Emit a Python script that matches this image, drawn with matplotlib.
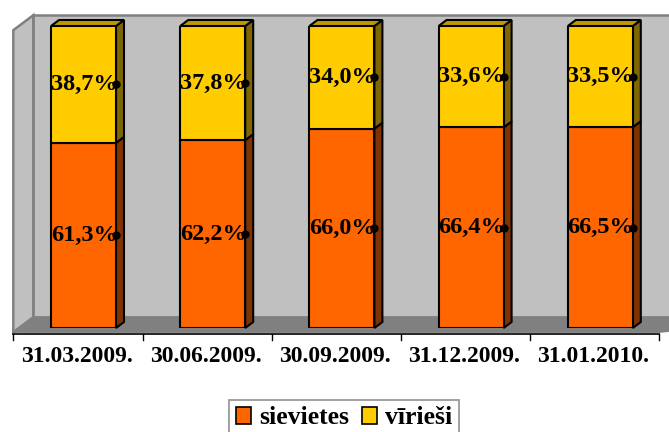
import numpy as np
import matplotlib
matplotlib.use("Agg")
import matplotlib.pyplot as plt
from matplotlib.patches import Polygon, Patch
from matplotlib.transforms import IdentityTransform, offset_copy

dates = ["31.03.2009.", "30.06.2009.", "30.09.2009.", "31.12.2009.", "31.01.2010."]
sievietes = [61.3, 62.2, 66.0, 66.4, 66.5]
virresi = [38.7, 37.8, 34.0, 33.6, 33.5]
series_names = ["sievietes", "vīrieši"]

front_cols = ["#FF6600", "#FFCC00"]
side_cols = ["#803300", "#806600"]
top_cols = ["#BF4C00", "#BF9900"]

plt.rcParams["font.family"] = ["Liberation Serif", "DejaVu Serif"]
plt.rcParams["font.weight"] = "bold"

fig = plt.figure(figsize=(6.69, 4.32), dpi=100)
W, H = 669, 432
# axes = front plane of the bars
ax = fig.add_axes([18.9 / W, (H - 328) / H, 646 / W, 302 / H])
ax.set_xlim(-0.5, 4.5)
ax.set_ylim(0, 100)
ax.axis("off")

DX, DY = 8.0, 6.0  # depth of one bar in pixels


def pt(x, y, d):
    p = ax.transData.transform((x, y))
    return (p[0] + d * DX, p[1] + d * DY)


def face(pts, fc, ec="black", lw=1.5, z=1):
    ax.add_patch(Polygon(pts, closed=True, facecolor=fc, edgecolor=ec, linewidth=lw,
                         transform=IdentityTransform(), clip_on=False, zorder=z,
                         joinstyle="miter"))


n = len(dates)
x0, x1 = -0.5, n - 0.5
df, db = -0.7, 1.8
# back wall
face([pt(x0, 0, db), pt(x1 + 1, 0, db), pt(x1 + 1, 100, db), pt(x0, 100, db)],
     "#C0C0C0", ec="#808080", lw=1.8, z=0)
# side wall
face([pt(x0, 0, df), pt(x0, 0, db), pt(x0, 100, db), pt(x0, 100, df)],
     "#C0C0C0", ec="#808080", lw=1.8, z=0)
# floor
face([pt(x0, 0, df), pt(x1, 0, df), pt(x1 + 1, 0, db), pt(x0, 0, db)],
     "#808080", ec="#808080", lw=1, z=0.5)

# axis line and ticks
a0 = pt(x0, 0, df)
a1 = pt(x1, 0, df)
ax.plot([a0[0], a1[0]], [a0[1] - 1.5, a1[1] - 1.5], color="black", lw=1.2,
        transform=IdentityTransform(), clip_on=False, zorder=2)
for k in range(n + 1):
    t = pt(x0 + k, 0, df)
    ax.plot([t[0], t[0]], [t[1] - 1.5, t[1] - 8], color="black", lw=1,
            transform=IdentityTransform(), clip_on=False, zorder=2)

bw = 0.503
for i in range(n):
    bottoms = [0, sievietes[i]]
    vals = [sievietes[i], virresi[i]]
    xl, xr = i - bw / 2, i + bw / 2
    for s in range(2):
        y0, y1 = bottoms[s], bottoms[s] + vals[s]
        # side
        face([pt(xr, y0, 0), pt(xr, y0, 1), pt(xr, y1, 1), pt(xr, y1, 0)], side_cols[s], z=3)
        if s == 1:
            face([pt(xl, y1, 0), pt(xr, y1, 0), pt(xr, y1, 1), pt(xl, y1, 1)], top_cols[s], z=3)
    ax.bar(i, sievietes[i], width=bw, color=front_cols[0], edgecolor="black", linewidth=1.5, zorder=4)
    ax.bar(i, virresi[i], bottom=sievietes[i], width=bw, color=front_cols[1],
           edgecolor="black", linewidth=1.5, zorder=4)
    for s, (b, v) in enumerate(zip(bottoms, vals)):
        txt = f"{v:.1f}%".replace(".", ",")
        ax.text(i, b + v / 2, txt, ha="center", va="center", fontsize=17.5, fontweight="bold",
                transform=offset_copy(ax.transData, fig, x=0.5, y=0, units="dots"), zorder=6)
        ax.plot(xr, b + v / 2, "o", color="black", markersize=5, zorder=6, clip_on=False)
    ax.text(i, 0, dates[i], ha="center", va="center", fontsize=17, fontweight="bold",
            transform=offset_copy(ax.transData, fig, x=-6.8, y=-29, units="dots"))

handles = [Patch(facecolor=front_cols[0], edgecolor="black", linewidth=1.2),
           Patch(facecolor=front_cols[1], edgecolor="black", linewidth=1.2)]
leg = fig.legend(handles, series_names, loc="upper center", bbox_to_anchor=(344 / W, 32 / H),
                 ncol=2, frameon=True, fancybox=False, edgecolor="#808080",
                 prop={"weight": "bold", "size": 18.5}, handlelength=0.6, handleheight=0.6,
                 handletextpad=0.3, columnspacing=0.5, borderpad=0.25, borderaxespad=0)
leg.get_frame().set_linewidth(1.3)

fig.savefig("out.png", dpi=100)
